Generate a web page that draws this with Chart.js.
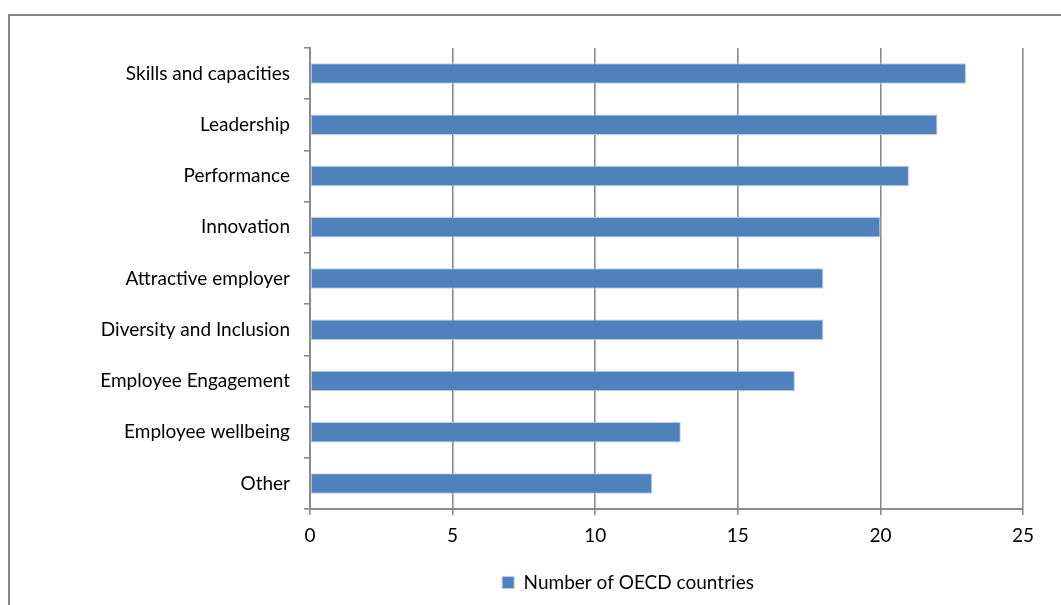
<!DOCTYPE html>
<html>
<head>
<meta charset="utf-8">
<script src="https://cdn.jsdelivr.net/npm/chart.js@4/dist/chart.umd.min.js"></script>
<style>
  html, body { margin: 0; padding: 0; background: #fff; }
  #wrap { position: relative; width: 1061px; height: 605px; overflow: hidden; }
  #frame { position: absolute; left: 8px; top: 14px; width: 1200px; height: 800px; border: 2px solid #878787; }
  #chart { position: absolute; left: 0; top: 0; }
</style>
</head>
<body>
<div id="wrap">
  <div id="frame"></div>
  <canvas id="chart" width="1061" height="605"></canvas>
</div>
<script>
// categorias y valores
const categories = [
    'Skills and capacities',
    'Leadership',
    'Performance',
    'Innovation',
    'Attractive employer',
    'Diversity and Inclusion',
    'Employee Engagement',
    'Employee wellbeing',
    'Other'
];
const countries = [23, 22, 21, 20, 18, 18, 17, 13, 12];
const xTicks = [0, 5, 10, 15, 20, 25];
const seriesLabel = 'Number of OECD countries';

const gridColor = '#8a8a8a';
const fontFamily = 'Lato, "Open Sans", sans-serif';

// la leyenda esta algo a la derecha en el original
const legendShift = {
    id: 'legendShift',
    afterLayout: function (chart) {
        if (chart.legend) {
            chart.legend.left = 233;
        }
    }
};

const ctx = document.getElementById('chart').getContext('2d');
new Chart(ctx, {
    type: 'bar',
    data: {
        labels: categories,
        datasets: [
            {
                label: seriesLabel,
                data: countries,
                backgroundColor: '#4f81bd',
                borderColor: '#b9cde5',
                borderWidth: 1,
                borderSkipped: false,
                categoryPercentage: 1,
                barPercentage: 0.4
            }
        ]
    },
    options: {
        indexAxis: 'y',
        responsive: false,
        animation: false,
        layout: {
            padding: { left: 0, right: 38, top: 48, bottom: 3 }
        },
        scales: {
            x: {
                min: xTicks[0],
                max: xTicks[xTicks.length - 1],
                afterBuildTicks: function (scale) {
                    scale.ticks = xTicks.map(v => ({ value: v }));
                },
                afterFit: function (scale) {
                    scale.height = 50;
                },
                grid: {
                    color: gridColor,
                    lineWidth: 1.6,
                    tickLength: 6
                },
                border: { color: gridColor, width: 2 },
                ticks: {
                    color: '#000',
                    font: { family: fontFamily, size: 19 },
                    padding: 9
                }
            },
            y: {
                afterFit: function (scale) {
                    scale.width = 310;
                },
                grid: {
                    drawOnChartArea: false,
                    color: gridColor,
                    lineWidth: 1.6,
                    tickLength: 6
                },
                border: { color: gridColor, width: 2 },
                ticks: {
                    color: '#000',
                    font: { family: fontFamily, size: 19 },
                    padding: 14
                }
            }
        },
        plugins: {
            legend: {
                position: 'bottom',
                labels: {
                    color: '#000',
                    boxWidth: 12,
                    boxHeight: 12,
                    padding: 14,
                    font: { family: fontFamily, size: 19 }
                }
            },
            tooltip: { enabled: false }
        }
    },
    plugins: [legendShift]
});
</script>
</body>
</html>
